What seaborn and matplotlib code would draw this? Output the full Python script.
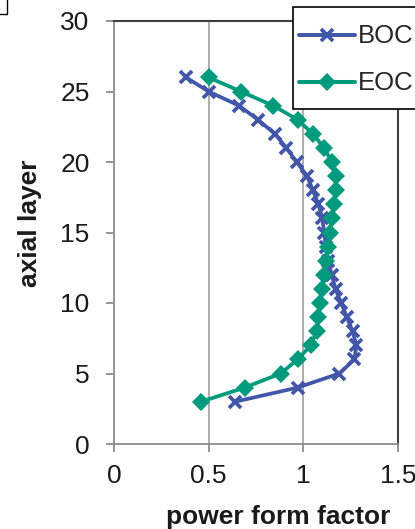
import matplotlib
matplotlib.use("Agg")
import matplotlib.pyplot as plt
import seaborn as sns
import pandas as pd
import numpy as np
from matplotlib.lines import Line2D
from matplotlib.legend_handler import HandlerLine2D

# ---- data ----
layers = list(range(3, 27))
boc = [0.64, 0.97, 1.19, 1.27, 1.28, 1.26, 1.23, 1.20, 1.17, 1.15, 1.13, 1.12,
       1.11, 1.10, 1.08, 1.05, 1.02, 0.965, 0.91, 0.85, 0.76, 0.66, 0.50, 0.38]
eoc = [0.46, 0.69, 0.88, 0.97, 1.04, 1.07, 1.08, 1.09, 1.10, 1.11, 1.12, 1.13,
       1.14, 1.15, 1.16, 1.17, 1.17, 1.15, 1.11, 1.05, 0.97, 0.84, 0.67, 0.50]
series_names = ["BOC", "EOC"]
x_ticks = [0, 0.5, 1, 1.5]
x_ticklabels = ["0", "0.5", "1", "1.5"]
y_ticks = [0, 5, 10, 15, 20, 25, 30]
x_label = "power form factor"
y_label = "axial layer"

sns.set_theme(style="white")
plt.rcParams["font.family"] = ["Liberation Sans", "DejaVu Sans"]

W, H = 415, 529
fig = plt.figure(figsize=(W / 100, H / 100), dpi=100)
ax = fig.add_axes([114 / W, 1 - 444 / H, (398 - 114) / W, (444 - 21) / H])

c_boc = "#4257A8"
c_eoc = "#009A7C"

df_boc = pd.DataFrame({"pff": boc, "layer": layers})
df_eoc = pd.DataFrame({"pff": eoc, "layer": layers})

sns.lineplot(data=df_boc, x="pff", y="layer", sort=False, estimator=None,
             color=c_boc, linewidth=2.7, marker="x", markersize=9,
             markeredgewidth=2.7, markeredgecolor=c_boc, ax=ax, zorder=3)
sns.lineplot(data=df_eoc, x="pff", y="layer", sort=False, estimator=None,
             color=c_eoc, linewidth=2.7, marker="D", markersize=9,
             markeredgewidth=0, markerfacecolor=c_eoc, ax=ax, zorder=4)

ax.set_xlim(0, 1.5)
ax.set_ylim(0, 30)
ax.set_xticks(x_ticks)
ax.set_xticklabels(x_ticklabels)
ax.set_yticks(y_ticks)

ax.grid(False)
for xv in x_ticks[1:-1]:
    ax.axvline(xv, color="#a6a6a6", linewidth=1.3, zorder=1)

for s in ["left", "bottom"]:
    ax.spines[s].set_color("#8c8c8c")
    ax.spines[s].set_linewidth(1.3)
for s in ["top", "right"]:
    ax.spines[s].set_color("#404040")
    ax.spines[s].set_linewidth(1.5)

ax.tick_params(axis="both", which="major", direction="out", length=5.5,
               width=1.3, color="#8c8c8c", labelsize=19, labelcolor="#1a1a1a",
               left=True, bottom=True)
ax.tick_params(axis="y", pad=12)
ax.tick_params(axis="x", pad=9)

ax.set_xlabel(x_label, fontsize=19, fontweight="bold", color="#1a1a1a", labelpad=12)
ax.set_ylabel(y_label, fontsize=19, fontweight="bold", color="#1a1a1a", labelpad=13)
ax.xaxis.label.set_x((278.5 - 114) / (398 - 114))
ax.yaxis.label.set_y((444 - 223.5) / (444 - 21))


class ShiftedLineHandler(HandlerLine2D):
    """Legend line handler that moves the sample down to line up with the text."""

    def __init__(self, dy=0.0, **kw):
        super().__init__(**kw)
        self.dy = dy

    def create_artists(self, legend, orig_handle, xdescent, ydescent, width,
                       height, fontsize, trans):
        artists = super().create_artists(legend, orig_handle, xdescent, ydescent,
                                         width, height, fontsize, trans)
        for a in artists:
            if isinstance(a, Line2D):
                a.set_ydata(np.asarray(a.get_ydata(), dtype=float) - self.dy * fontsize)
        return artists


handles = [
    Line2D([], [], color=c_boc, linewidth=2.9, marker="x", markersize=9,
           markeredgewidth=2.7),
    Line2D([], [], color=c_eoc, linewidth=2.9, marker="D", markersize=9,
           markeredgewidth=0),
]
leg = ax.legend(handles, series_names, loc="upper left",
                bbox_to_anchor=(292.5 / W, 1 - 6.7 / H), bbox_transform=fig.transFigure,
                fontsize=18.5, frameon=True, fancybox=False, framealpha=1,
                edgecolor="black", handlelength=2.2, handleheight=2.2,
                handletextpad=0.1, borderpad=0.25, labelspacing=0.15,
                borderaxespad=0,
                handler_map={Line2D: ShiftedLineHandler(dy=0.28)})
leg.get_frame().set_linewidth(1.2)
leg.set_zorder(10)

# small corner of outer frame at top-left
fig.add_artist(Line2D([7 / W, 7 / W], [1, 1 - 14 / H], transform=fig.transFigure,
                      color="black", linewidth=1))
fig.add_artist(Line2D([0, 7 / W], [1 - 14 / H, 1 - 14 / H], transform=fig.transFigure,
                      color="black", linewidth=1))

fig.savefig("out.png", dpi=100)
